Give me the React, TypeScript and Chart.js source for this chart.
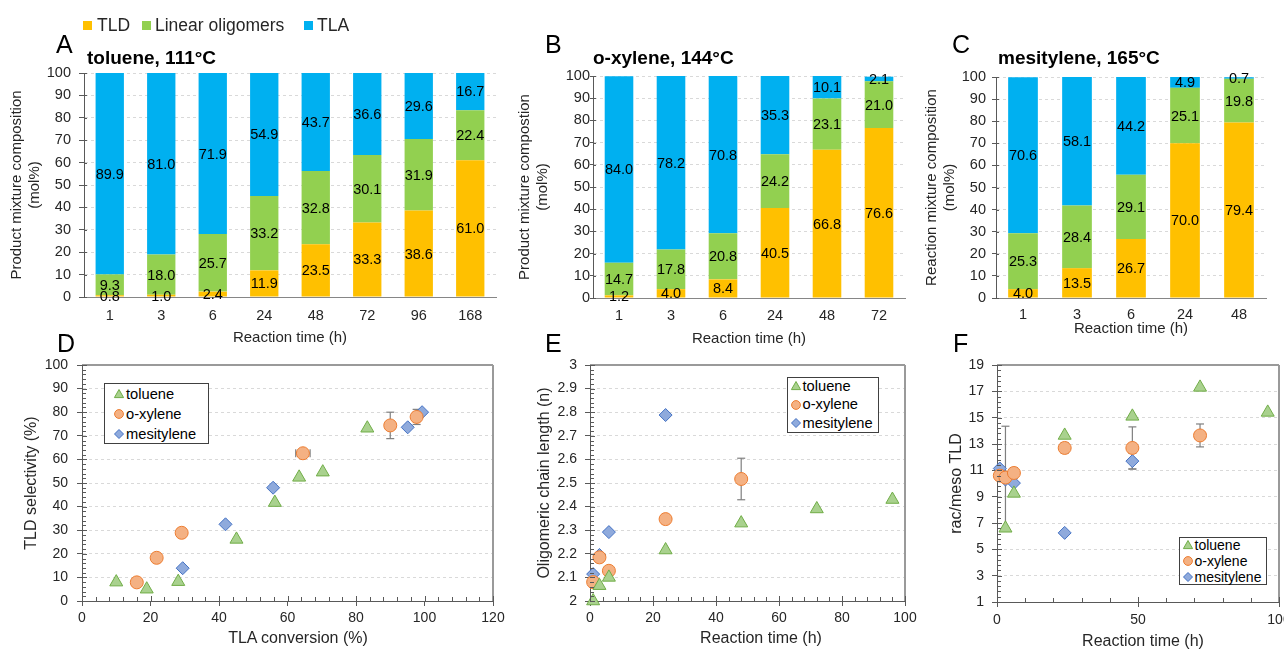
import React, { useEffect, useRef } from 'react';
import { Chart, registerables } from 'chart.js';
Chart.register(...registerables);

const FONT = '"Liberation Sans", Arial, Helvetica, sans-serif';
Chart.defaults.font.family = FONT;
Chart.defaults.color = '#262626';

// ---------- Data: stacked bars (mol%) ----------
const timesA = ['1', '3', '6', '24', '48', '72', '96', '168'];
const tldA = [0.8, 1.0, 2.4, 11.9, 23.5, 33.3, 38.6, 61.0];
const linA = [9.3, 18.0, 25.7, 33.2, 32.8, 30.1, 31.9, 22.4];
const tlaA = [89.9, 81.0, 71.9, 54.9, 43.7, 36.6, 29.6, 16.7];

const timesB = ['1', '3', '6', '24', '48', '72'];
const tldB = [1.2, 4.0, 8.4, 40.5, 66.8, 76.6];
const linB = [14.7, 17.8, 20.8, 24.2, 23.1, 21.0];
const tlaB = [84.0, 78.2, 70.8, 35.3, 10.1, 2.1];

const timesC = ['1', '3', '6', '24', '48'];
const tldC = [4.0, 13.5, 26.7, 70.0, 79.4];
const linC = [25.3, 28.4, 29.1, 25.1, 19.8];
const tlaC = [70.6, 58.1, 44.2, 4.9, 0.7];

// ---------- Data: D (TLD selectivity vs TLA conversion) ----------
const tolDx = [10.0, 18.9, 28.1, 45.1, 56.3, 63.4, 70.3, 83.3];
const tolDy = [8.0, 5.0, 8.2, 26.1, 41.7, 52.4, 54.6, 73.2];
const oxyDx = [16.0, 21.8, 29.1, 64.5, 90.0, 97.7];
const oxyDy = [7.9, 18.3, 28.9, 62.6, 74.4, 78.0];
const oxyDex = [0, 0, 0, 2.1, 0, 0];
const oxyDey = [0, 0, 0, 0, 5.6, 3.2];
const mesDx = [29.4, 41.9, 55.8, 95.1, 99.3];
const mesDy = [13.9, 32.5, 48.0, 73.6, 80.0];

// ---------- Data: E (oligomeric chain length) ----------
const tolEx = [1, 3, 6, 24, 48, 72, 96];
const tolEy = [2.0, 2.065, 2.1, 2.216, 2.33, 2.39, 2.43];
const oxyEx = [1, 3, 6, 24, 48];
const oxyEy = [2.08, 2.185, 2.128, 2.347, 2.517];
const oxyEey = [0, 0, 0, 0, 0.088];
const mesEx = [1, 3, 6, 24];
const mesEy = [2.114, 2.195, 2.292, 2.788];

// ---------- Data: F (rac/meso TLD) ----------
const tolFx = [3, 6, 24, 48, 72, 96];
const tolFy = [6.6, 9.25, 13.65, 15.1, 17.3, 15.4];
const oxyFx = [1, 3, 6, 24, 48, 72];
const oxyFy = [10.6, 10.45, 10.8, 12.7, 12.7, 13.65];
const oxyFey = [0, 3.9, 0.4, 0.4, 1.6, 0.87];
const mesFx = [1, 3, 6, 24, 48];
const mesFy = [11.14, 10.3, 10.03, 6.25, 11.7];
const mesFey = [0, 0, 0, 0, 0.6];

const seriesNames = ['TLD', 'Linear oligomers', 'TLA'];
const solventNames = ['toluene', 'o-xylene', 'mesitylene'];

// ---------- Styles ----------
const C_TLD = '#FFC000';
const C_LIN = '#92D050';
const C_TLA = '#00B0F0';
const TOL = { bg: '#A9D18E', bd: '#70AD47' };
const OXY = { bg: '#F4B183', bd: '#ED7D31' };
const MES = { bg: '#8FAADC', bd: '#4472C4' };
const TXT = '#262626';
const AXIS = '#595959';
const GRID = '#d9d9d9';
const PAD_TOP = 20;

const pts = (xs: number[], ys: number[]) => xs.map((x, i) => ({ x, y: ys[i] }));

// ---------- Plugins ----------
const barLabelPlugin = {
  id: 'barLabels',
  afterDatasetsDraw(chart: any) {
    const ctx = chart.ctx;
    ctx.save();
    ctx.font = `14.5px ${FONT}`;
    ctx.fillStyle = '#000';
    ctx.textAlign = 'center';
    ctx.textBaseline = 'middle';
    chart.data.datasets.forEach((ds: any, di: number) => {
      const meta = chart.getDatasetMeta(di);
      meta.data.forEach((el: any, i: number) => {
        const v = ds.data[i];
        const { x, y, base } = el.getProps(['x', 'y', 'base'], true);
        ctx.fillText(Number(v).toFixed(1), x, (y + base) / 2 + 1);
      });
    });
    ctx.restore();
  },
};

const errPlugin = {
  id: 'errbars',
  beforeDatasetsDraw(chart: any) {
    const ctx = chart.ctx;
    const xs = chart.scales.x;
    const ys = chart.scales.y;
    const line = (a: number, b: number, c: number, d: number) => {
      ctx.beginPath();
      ctx.moveTo(a, b);
      ctx.lineTo(c, d);
      ctx.stroke();
    };
    ctx.save();
    ctx.strokeStyle = '#7f7f7f';
    ctx.lineWidth = 1.2;
    chart.data.datasets.forEach((ds: any) => {
      const ex = ds.errX;
      const ey = ds.errY;
      ds.data.forEach((p: any, i: number) => {
        const px = xs.getPixelForValue(p.x);
        const py = ys.getPixelForValue(p.y);
        if (ey && ey[i]) {
          const y1 = ys.getPixelForValue(p.y + ey[i]);
          const y2 = ys.getPixelForValue(p.y - ey[i]);
          line(px, y1, px, y2);
          line(px - 4, y1, px + 4, y1);
          line(px - 4, y2, px + 4, y2);
        }
        if (ex && ex[i]) {
          const x1 = xs.getPixelForValue(p.x - ex[i]);
          const x2 = xs.getPixelForValue(p.x + ex[i]);
          line(x1, py, x2, py);
          line(x1, py - 4, x1, py + 4);
          line(x2, py - 4, x2, py + 4);
        }
      });
    });
    ctx.restore();
  },
};

const decorPlugin = {
  id: 'decor',
  afterDraw(chart: any, _args: any, o: any) {
    if (!o || !o.on) return;
    const { ctx, chartArea: ca } = chart;
    const xs = chart.scales.x;
    const ys = chart.scales.y;
    const line = (a: number, b: number, c: number, d: number) => {
      ctx.beginPath();
      ctx.moveTo(a, b);
      ctx.lineTo(c, d);
      ctx.stroke();
    };
    ctx.save();
    if (o.frame) {
      ctx.strokeStyle = o.frame;
      ctx.lineWidth = 2;
      line(ca.left, ca.top, ca.right, ca.top);
      line(ca.right, ca.top, ca.right, ca.bottom);
    }
    ctx.strokeStyle = AXIS;
    ctx.lineWidth = 1;
    if (o.minorX) {
      const n = Math.round((xs.max - xs.min) / o.minorX);
      for (let i = 0; i <= n; i++) {
        const px = Math.round(xs.getPixelForValue(xs.min + i * o.minorX)) + 0.5;
        line(px, ca.bottom, px, ca.bottom - o.minorLen);
      }
    }
    if (o.minorY) {
      const n = Math.round((ys.max - ys.min) / o.minorY);
      for (let i = 0; i <= n; i++) {
        const py = Math.round(ys.getPixelForValue(ys.min + i * o.minorY)) + 0.5;
        line(ca.left, py, ca.left + o.minorLen, py);
      }
    }
    if (o.innerY) {
      ys.ticks.forEach((t: any) => {
        const py = Math.round(ys.getPixelForValue(t.value)) + 0.5;
        line(ca.left, py, ca.left + o.innerY, py);
      });
    }
    if (o.innerX) {
      xs.ticks.forEach((t: any) => {
        const px = Math.round(xs.getPixelForValue(t.value)) + 0.5;
        line(px, ca.bottom, px, ca.bottom - o.innerX);
      });
    }
    ctx.restore();
  },
};

// ---------- Config builders ----------
type BarP = {
  yW: number; xH: number; tl: number; tp: number; xPad: number; yTitle: string[];
};

function barConfig(labels: string[], tld: number[], lin: number[], tla: number[], p: BarP) {
  const common = { categoryPercentage: 1, barPercentage: 0.55, borderWidth: 0 };
  return {
    type: 'bar',
    data: {
      labels,
      datasets: [
        { label: seriesNames[0], data: tld, backgroundColor: C_TLD, ...common },
        { label: seriesNames[1], data: lin, backgroundColor: C_LIN, ...common },
        { label: seriesNames[2], data: tla, backgroundColor: C_TLA, ...common },
      ],
    },
    options: {
      animation: false,
      responsive: false,
      devicePixelRatio: 1,
      layout: { padding: { top: PAD_TOP, right: 8, left: 0, bottom: 0 } },
      plugins: {
        legend: { display: false },
        tooltip: { enabled: false },
        decor: { on: true, innerY: 3 },
      },
      scales: {
        x: {
          stacked: true,
          grid: { display: false, drawTicks: false },
          border: { color: '#868686', width: 1 },
          ticks: { font: { size: 14.5 }, color: TXT, padding: p.xPad },
          title: {
            display: true, text: 'Reaction time (h)', color: TXT,
            font: { size: 15 }, padding: { top: 0, bottom: 2 },
          },
          afterFit: (s: any) => { s.height = p.xH; },
        },
        y: {
          stacked: true,
          min: 0,
          max: 100,
          ticks: { stepSize: 10, font: { size: 14.5 }, color: TXT, padding: p.tp },
          grid: { color: GRID, lineWidth: 1, tickColor: AXIS, tickLength: p.tl, tickBorderDash: [] },
          border: { color: AXIS, width: 1, dash: [3, 3] },
          title: {
            display: true, text: p.yTitle, color: TXT,
            font: { size: 15 }, padding: { top: 8, bottom: 0 },
          },
          afterFit: (s: any) => { s.width = p.yW; },
        },
      },
    },
    plugins: [barLabelPlugin, decorPlugin],
  };
}

type ScP = {
  yW: number; xH: number; tp: number; xPad: number; titlePad: number; yTitle: string;
  xMin: number; xMax: number; xStep: number; yMin: number; yMax: number; yStep: number;
  minorX: number; minorY: number; yCb?: (v: any) => string;
};

function scatterConfig(datasets: any[], p: ScP) {
  return {
    type: 'scatter',
    data: { datasets },
    options: {
      animation: false,
      responsive: false,
      devicePixelRatio: 1,
      layout: { padding: { top: PAD_TOP, right: 20, left: 0, bottom: 0 } },
      plugins: {
        legend: { display: false },
        tooltip: { enabled: false },
        decor: { on: true, frame: '#9a9a9a', minorX: p.minorX, minorY: p.minorY, minorLen: 4, innerX: 5, innerY: 5 },
      },
      scales: {
        x: {
          type: 'linear',
          min: p.xMin,
          max: p.xMax,
          ticks: { stepSize: p.xStep, font: { size: 14 }, color: TXT, padding: p.xPad },
          grid: { drawOnChartArea: false, tickLength: 5, tickColor: AXIS },
          border: { color: AXIS, width: 1 },
          afterFit: (s: any) => { s.height = p.xH; },
        },
        y: {
          type: 'linear',
          min: p.yMin,
          max: p.yMax,
          ticks: {
            stepSize: p.yStep, font: { size: 14 }, color: TXT, padding: p.tp,
            callback: p.yCb ? p.yCb : (v: any) => String(v),
          },
          grid: { color: GRID, lineWidth: 1, tickColor: AXIS, tickLength: 5, tickBorderDash: [] },
          border: { color: AXIS, width: 1, dash: [3, 3] },
          title: {
            display: true, text: p.yTitle, color: TXT,
            font: { size: 16 }, padding: { top: p.titlePad, bottom: 0 },
          },
          afterFit: (s: any) => { s.width = p.yW; },
        },
      },
    },
    plugins: [errPlugin, decorPlugin],
  };
}

const tolDs = (data: any[]) => ({
  label: solventNames[0], data, pointStyle: 'triangle', pointRadius: 7.5,
  backgroundColor: TOL.bg, borderColor: TOL.bd, borderWidth: 1, clip: false,
});
const oxyDs = (data: any[], errY?: number[], errX?: number[]) => ({
  label: solventNames[1], data, pointStyle: 'circle', pointRadius: 6.5,
  backgroundColor: OXY.bg, borderColor: OXY.bd, borderWidth: 1, errY, errX, clip: false,
});
const mesDs = (data: any[], errY?: number[]) => ({
  label: solventNames[2], data, pointStyle: 'rectRot', pointRadius: 6.5,
  backgroundColor: MES.bg, borderColor: MES.bd, borderWidth: 1, errY, clip: false,
});

// ---------- Components ----------
function ChartBox({ left, top, width, height, config }: any) {
  const ref = useRef<HTMLCanvasElement>(null);
  useEffect(() => {
    const chart = new Chart(ref.current as HTMLCanvasElement, config);
    return () => chart.destroy();
  }, []);
  return (
    <div style={{ position: 'absolute', left, top, width, height }}>
      <canvas ref={ref} width={width} height={height} style={{ width, height, display: 'block' }} />
    </div>
  );
}

function Txt({ x, y, size, bold, center, children, color }: any) {
  return (
    <div
      style={{
        position: 'absolute', left: x, top: y - 0.8465 * size, fontSize: size,
        lineHeight: `${size}px`, fontWeight: bold ? 700 : 400, whiteSpace: 'nowrap',
        transform: center ? 'translateX(-50%)' : undefined, color: color || '#000',
        fontFamily: FONT,
      }}
    >
      {children}
    </div>
  );
}

function Marker({ kind, x, y }: any) {
  let shape: any = null;
  if (kind === 'tri') shape = <polygon points="6,1.5 10.6,9.6 1.4,9.6" fill={TOL.bg} stroke={TOL.bd} strokeWidth={1} />;
  if (kind === 'cir') shape = <circle cx={6} cy={6} r={4.4} fill={OXY.bg} stroke={OXY.bd} strokeWidth={1} />;
  if (kind === 'dia') shape = <polygon points="6,1.5 10.5,6 6,10.5 1.5,6" fill={MES.bg} stroke={MES.bd} strokeWidth={1} />;
  return (
    <svg style={{ position: 'absolute', left: x - 6, top: y - 6 }} width={12} height={12}>
      {shape}
    </svg>
  );
}

function ScLegend({ l, t, w, h, rows, mx, tx, fs }: any) {
  const kinds = ['tri', 'cir', 'dia'];
  return (
    <>
      <div style={{ position: 'absolute', left: l, top: t, width: w, height: h, border: '1px solid #404040', boxSizing: 'border-box', background: '#fff' }} />
      {rows.map((ry: number, i: number) => (
        <React.Fragment key={i}>
          <Marker kind={kinds[i]} x={mx} y={ry} />
          <Txt x={tx} y={ry + 5} size={fs}>{solventNames[i]}</Txt>
        </React.Fragment>
      ))}
    </>
  );
}

export default function App() {
  const cfgA = barConfig(timesA, tldA, linA, tlaA, { yW: 84, xH: 52, tl: 5, tp: 8, xPad: 10, yTitle: ['Product mixture composition', '(mol%)'] });
  const cfgB = barConfig(timesB, tldB, linB, tlaB, { yW: 85, xH: 52, tl: 3, tp: 0, xPad: 9, yTitle: ['Product mixture compostion', '(mol%)'] });
  const cfgC = barConfig(timesC, tldC, linC, tlaC, { yW: 81, xH: 42, tl: 4, tp: 6, xPad: 8, yTitle: ['Reaction mixture composition', '(mol%)'] });

  const cfgD = scatterConfig(
    [tolDs(pts(tolDx, tolDy)), oxyDs(pts(oxyDx, oxyDy), oxyDey, oxyDex), mesDs(pts(mesDx, mesDy))],
    { yW: 82, xH: 48, tp: 9, xPad: 4, titlePad: 22, yTitle: 'TLD selectivity (%)', xMin: 0, xMax: 120, xStep: 20, yMin: 0, yMax: 100, yStep: 10, minorX: 4, minorY: 2 },
  );
  const cfgE = scatterConfig(
    [tolDs(pts(tolEx, tolEy)), oxyDs(pts(oxyEx, oxyEy), oxyEey), mesDs(pts(mesEx, mesEy))],
    { yW: 60, xH: 48, tp: 8, xPad: 4, titlePad: 5, yTitle: 'Oligomeric chain length (n)', xMin: 0, xMax: 100, xStep: 20, yMin: 2, yMax: 3, yStep: 0.1, minorX: 4, minorY: 0.02, yCb: (v: any) => String(Math.round(v * 10) / 10) },
  );
  const cfgF = scatterConfig(
    [tolDs(pts(tolFx, tolFy)), oxyDs(pts(oxyFx, oxyFy), oxyFey), mesDs(pts(mesFx, mesFy), mesFey)],
    { yW: 60, xH: 51, tp: 8, xPad: 5, titlePad: 10, yTitle: 'rac/meso TLD', xMin: 0, xMax: 100, xStep: 50, yMin: 1, yMax: 19, yStep: 2, minorX: 10, minorY: 0.4 },
  );

  return (
    <div style={{ position: 'absolute', left: 0, top: 0, width: 1284, height: 649, overflow: 'hidden', background: '#fff', fontFamily: FONT }}>
      <ChartBox left={0} top={73 - PAD_TOP} width={504} height={224 + PAD_TOP + 52} config={cfgA} />
      <ChartBox left={508} top={76 - PAD_TOP} width={405} height={222 + PAD_TOP + 52} config={cfgB} />
      <ChartBox left={915} top={77 - PAD_TOP} width={359} height={221 + PAD_TOP + 42} config={cfgC} />
      <ChartBox left={0} top={365 - PAD_TOP} width={513} height={236 + PAD_TOP + 48} config={cfgD} />
      <ChartBox left={530} top={365 - PAD_TOP} width={395} height={236 + PAD_TOP + 48} config={cfgE} />
      <ChartBox left={937} top={365 - PAD_TOP} width={362} height={237 + PAD_TOP + 51} config={cfgF} />

      {/* top legend */}
      <div style={{ position: 'absolute', left: 83, top: 21, width: 9, height: 9, background: C_TLD }} />
      <Txt x={97} y={31.5} size={17.5} color={TXT}>{seriesNames[0]}</Txt>
      <div style={{ position: 'absolute', left: 142, top: 21, width: 9, height: 9, background: C_LIN }} />
      <Txt x={155} y={31.5} size={17.5} color={TXT}>{seriesNames[1]}</Txt>
      <div style={{ position: 'absolute', left: 304, top: 21, width: 9, height: 9, background: C_TLA }} />
      <Txt x={317} y={31.5} size={17.5} color={TXT}>{seriesNames[2]}</Txt>

      {/* panel letters */}
      <Txt x={56} y={53} size={25}>A</Txt>
      <Txt x={545} y={53} size={25}>B</Txt>
      <Txt x={952} y={53} size={25}>C</Txt>
      <Txt x={57} y={352} size={25}>D</Txt>
      <Txt x={545} y={352} size={25}>E</Txt>
      <Txt x={953} y={352} size={25}>F</Txt>

      {/* panel titles */}
      <Txt x={87} y={64} size={19} bold>toluene, 111°C</Txt>
      <Txt x={593} y={64} size={19} bold>o-xylene, 144°C</Txt>
      <Txt x={998} y={64} size={19} bold>mesitylene, 165°C</Txt>

      {/* scatter x-axis titles */}
      <Txt x={298} y={643.5} size={16} center color={TXT}>TLA conversion (%)</Txt>
      <Txt x={761} y={643.5} size={16} center color={TXT}>Reaction time (h)</Txt>
      <Txt x={1143} y={646.5} size={16} center color={TXT}>Reaction time (h)</Txt>

      {/* scatter legends */}
      <ScLegend l={104} t={383} w={105} h={61} rows={[394, 414, 434]} mx={119} tx={126} fs={14.7} />
      <ScLegend l={787} t={377} w={92} h={56} rows={[386, 404.5, 423]} mx={796} tx={802.5} fs={14.7} />
      <ScLegend l={1179} t={537} w={88} h={48} rows={[544.5, 561, 577]} mx={1188} tx={1194.5} fs={14} />
    </div>
  );
}
